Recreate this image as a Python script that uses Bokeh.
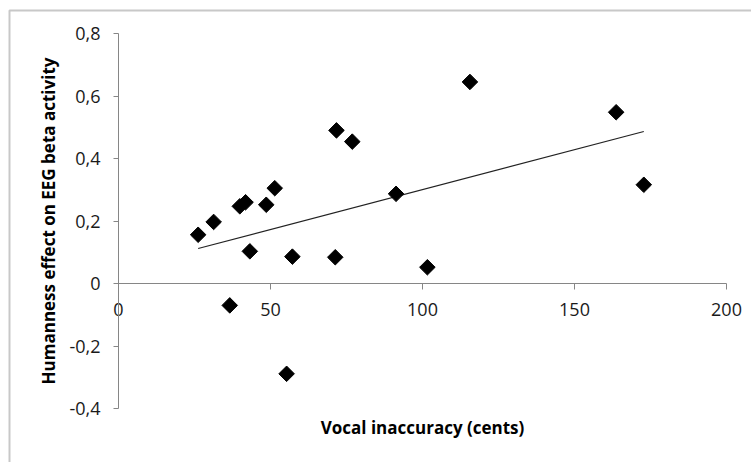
import numpy as np
from bokeh.plotting import figure
from bokeh.models import Range1d, FixedTicker, CustomJSTickFormatter, ColumnDataSource
from bokeh.core.properties import value
from bokeh.embed import file_html
from bokeh.resources import INLINE

# Data
vocal_inaccuracy = [26.2, 31.3, 36.6, 39.9, 41.8, 43.2, 48.6, 51.4, 55.3, 57.2,
                    71.3, 71.7, 76.9, 91.3, 101.6, 115.6, 163.7, 172.8]
humanness_effect = [0.156, 0.197, -0.070, 0.247, 0.260, 0.103, 0.252, 0.305, -0.289, 0.086,
                    0.084, 0.490, 0.454, 0.287, 0.052, 0.645, 0.548, 0.316]
x_ticks = [0, 50, 100, 150, 200]
y_ticks = [-0.4, -0.2, 0, 0.2, 0.4, 0.6, 0.8]
x_title = "Vocal inaccuracy (cents)"
y_title = "Humanness effect on EEG beta activity"

W, H = 751, 462
FONT = "Open Sans"

# layout: where the axis limits sit on the canvas (pixels)
X_LO, X_HI, PX_XLO, PX_XHI = 0, 200, 118, 726
Y_LO, Y_HI, PY_YLO, PY_YHI = -0.4, 0.8, 408, 33
sx = (PX_XHI - PX_XLO) / (X_HI - X_LO)
sy = (PY_YLO - PY_YHI) / (Y_HI - Y_LO)


def px_x(px):
    return X_LO + (px - PX_XLO) / sx


def px_y(py):
    return Y_HI - (py - PY_YHI) / sy


p = figure(width=W, height=H, output_backend="svg", toolbar_location=None,
           x_range=Range1d(px_x(0), px_x(W)), y_range=Range1d(px_y(H), px_y(0)),
           min_border=0, min_border_left=0, min_border_right=0,
           min_border_top=0, min_border_bottom=0,
           background_fill_color="white", border_fill_color="white",
           outline_line_color=None)
p.grid.visible = False

# x axis crossing at y = 0
xa = p.xaxis[0]
xa.fixed_location = 0
xa.bounds = (X_LO, X_HI)
xa.ticker = FixedTicker(ticks=x_ticks)
xa.axis_line_color = "#868686"
xa.major_tick_line_color = "#868686"
xa.major_tick_out = 6
xa.major_tick_in = 0
xa.minor_tick_line_color = None
xa.major_label_standoff = 13
xa.major_label_text_font = FONT
xa.major_label_text_font_size = "18px"
xa.major_label_text_color = "#1a1a1a"

# y axis at x = 0
ya = p.yaxis[0]
ya.fixed_location = 0
ya.bounds = (Y_LO, Y_HI)
ya.ticker = FixedTicker(ticks=y_ticks)
ya.formatter = CustomJSTickFormatter(
    code="return Math.abs(tick) < 1e-9 ? '0' : tick.toFixed(1).replace('.', ',');")
ya.axis_line_color = "#868686"
ya.major_tick_line_color = "#868686"
ya.major_tick_out = 5
ya.major_tick_in = 0
ya.minor_tick_line_color = None
ya.major_label_standoff = 13
ya.major_label_text_font = FONT
ya.major_label_text_font_size = "18px"
ya.major_label_text_color = "#1a1a1a"

# axis titles
p.text(x=[(X_LO + X_HI) / 2], y=[px_y(427)], text=[x_title],
       text_font=value(FONT), text_font_style="bold", text_font_size="17px",
       text_color="black", text_align="center", text_baseline="middle")
p.text(x=[px_x(48)], y=[(Y_LO + Y_HI) / 2], text=[y_title], angle=np.pi / 2,
       text_font=value(FONT), text_font_style="bold", text_font_size="17px",
       text_color="black", text_align="center", text_baseline="middle")

# chart-area border (only top and left edges visible in the crop)
p.line([px_x(9), px_x(9), px_x(W + 5)], [px_y(H + 5), px_y(10), px_y(10)],
       line_color="#c8c8c8", line_width=2)

# linear trend line (least squares fit of the data)
slope, intercept = np.polyfit(vocal_inaccuracy, humanness_effect, 1)
tx = [min(vocal_inaccuracy), max(vocal_inaccuracy)]
ty = [slope * v + intercept for v in tx]
p.line(tx, ty, line_color="#222222", line_width=1.2)

src = ColumnDataSource(dict(x=vocal_inaccuracy, y=humanness_effect))
p.scatter("x", "y", source=src, marker="square", size=11, angle=np.pi / 4,
          fill_color="black", line_color="black")

open("out.html", "w").write(file_html(p, INLINE))
